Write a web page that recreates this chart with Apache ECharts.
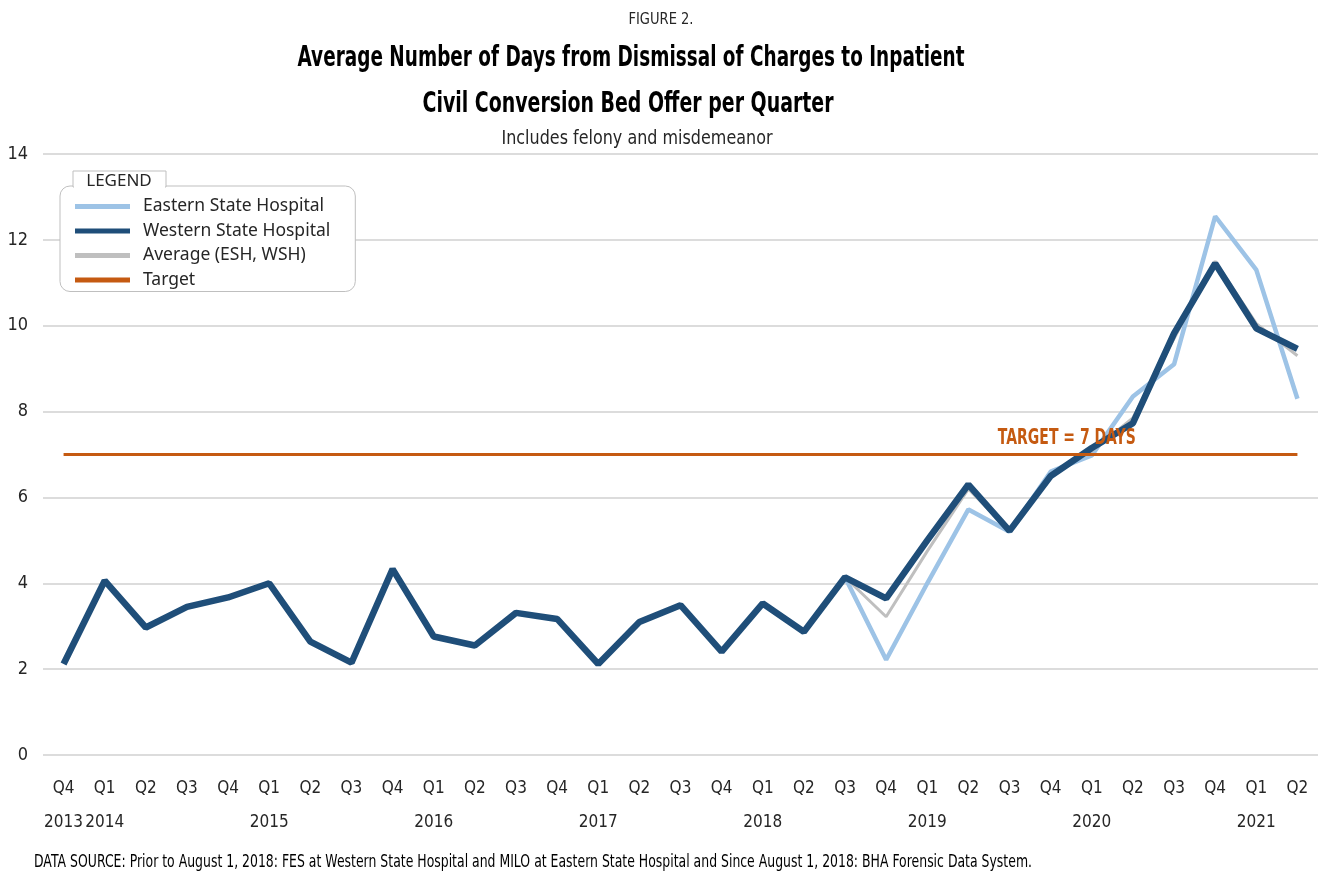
<!DOCTYPE html>
<html>
<head>
<meta charset="utf-8">
<script src="https://cdn.jsdelivr.net/npm/echarts@6/dist/echarts.min.js"></script>
<style>
  html, body { margin: 0; padding: 0; background: #fff; }
  #chart { width: 1323px; height: 875px; }
</style>
</head>
<body>
<div id="chart"></div>
<script>
// quarter labels and the year row under them
var quarters = ['Q4',
  'Q1', 'Q2', 'Q3', 'Q4', 'Q1', 'Q2', 'Q3', 'Q4', 'Q1', 'Q2', 'Q3', 'Q4',
  'Q1', 'Q2', 'Q3', 'Q4', 'Q1', 'Q2', 'Q3', 'Q4', 'Q1', 'Q2', 'Q3', 'Q4',
  'Q1', 'Q2', 'Q3', 'Q4', 'Q1', 'Q2']
var years = ['2013',
  '2014', '', '', '', '2015', '', '', '', '2016', '', '', '',
  '2017', '', '', '', '2018', '', '', '', '2019', '', '', '',
  '2020', '', '', '', '2021', '']

var western = [2.12, 4.06, 2.97, 3.45, 3.67, 4.0, 2.64, 2.15, 4.33, 2.76, 2.55, 3.31, 3.17,
  2.12, 3.1, 3.49, 2.41, 3.53, 2.87, 4.14, 3.65, 5.0, 6.3, 5.22, 6.5,
  7.15, 7.73, 9.82, 11.45, 9.94, 9.46]
var eastern = [null, null, null, null, null, null, null, null, null, null, null, null, null,
  null, null, null, null, null, null, 4.14, 2.22, 4.0, 5.72, 5.2, 6.6,
  6.98, 8.35, 9.1, 12.55, 11.3, 8.3]
var average = [null, null, null, null, null, null, null, null, null, null, null, null, null,
  null, null, null, null, null, null, 4.14, 3.22, 4.75, 6.2, 5.22, 6.55,
  7.08, 7.85, 9.7, 11.5, 10.05, 9.3]
var targetDays = 7
var targetLabelAt = 25

var narrow = "'Liberation Sans Narrow', 'DejaVu Sans Condensed', sans-serif"

// the source picture is squeezed sideways, so the headline texts get a scaleX
var measureCtx = document.createElement('canvas').getContext('2d')
function squeeze (text, weight, size, width) {
  measureCtx.font = weight + ' ' + size + 'px "DejaVu Sans"'
  return width / measureCtx.measureText(text).width
}
function tallText (text, weight, size, x, y, width, color, align) {
  return {
    type: 'text',
    z: 50,
    x: x,
    y: y,
    scaleX: squeeze(text, weight, size, width),
    style: {
      text: text,
      fontFamily: 'DejaVu Sans',
      fontSize: size,
      fontWeight: weight,
      fill: color,
      align: align || 'center',
      verticalAlign: 'middle'
    }
  }
}

var chart = echarts.init(document.getElementById('chart'))

var option = {
  animation: false,
  legend: {
    orient: 'vertical',
    left: 60,
    top: 186,
    padding: [11, 25, 2, 15],
    itemWidth: 55,
    itemHeight: 5,
    itemGap: 5.5,
    icon: 'rect',
    backgroundColor: '#fff',
    borderColor: '#bfbfbf',
    borderWidth: 1,
    borderRadius: 10,
    textStyle: { fontFamily: 'Noto Sans', fontSize: 17.5, color: '#262626', lineHeight: 19, padding: [0, 0, 0, 8] },
    data: ['Eastern State Hospital', 'Western State Hospital', 'Average (ESH, WSH)', 'Target']
  },
  grid: { left: 43, right: 5, top: 154, bottom: 120 },
  xAxis: {
    type: 'category',
    data: quarters,
    boundaryGap: true,
    axisLine: { show: false },
    axisTick: { show: false },
    axisLabel: {
      interval: 0,
      margin: 17,
      fontFamily: narrow,
      fontSize: 17,
      lineHeight: 34,
      color: '#262626',
      formatter: function (value, idx) {
        return value + '\n' + (years[idx] || ' ')
      }
    }
  },
  yAxis: {
    type: 'value',
    min: 0,
    max: 14,
    interval: 2,
    axisLine: { show: false },
    axisTick: { show: false },
    splitLine: { lineStyle: { color: '#d0d0d0', width: 1.5 } },
    axisLabel: { fontFamily: narrow, fontSize: 18, color: '#262626', margin: 15 }
  },
  series: [
    {
      name: 'Eastern State Hospital',
      type: 'line',
      data: eastern,
      symbol: 'none',
      color: '#9dc3e6',
      lineStyle: { width: 4.5, color: '#9dc3e6' },
      z: 2
    },
    {
      name: 'Average (ESH, WSH)',
      type: 'line',
      data: average,
      symbol: 'none',
      color: '#bfbfbf',
      lineStyle: { width: 3, color: '#bfbfbf' },
      z: 3
    },
    {
      name: 'Western State Hospital',
      type: 'line',
      data: western,
      symbol: 'none',
      color: '#1f4e79',
      lineStyle: { width: 6.5, color: '#1f4e79' },
      z: 4
    },
    {
      name: 'Target',
      type: 'line',
      data: quarters.map(function () { return targetDays }),
      symbol: 'none',
      color: '#c55a11',
      lineStyle: { width: 3, color: '#c55a11' },
      z: 5
    }
  ]
}

chart.setOption(option)

// label of the target line sits just above it, left of Q1 2020
var tp = chart.convertToPixel({ seriesIndex: 3 }, [targetLabelAt, targetDays])

chart.setOption({
  graphic: [
    tallText('FIGURE 2.', 'normal', 16, 661, 20, 65, '#262626'),
    tallText('Average Number of Days from Dismissal of Charges to Inpatient', 'bold', 29, 631, 58.5, 667, '#000'),
    tallText('Civil Conversion Bed Offer per Quarter', 'bold', 29, 628, 104.5, 411, '#000'),
    tallText('Includes felony and misdemeanor', 'normal', 20, 637, 138.5, 271, '#262626'),
    tallText('DATA SOURCE: Prior to August 1, 2018: FES at Western State Hospital and MILO at Eastern State Hospital and Since August 1, 2018: BHA Forensic Data System.',
      'normal', 17, 34, 863, 998, '#000', 'left'),
    tallText('TARGET = 7 DAYS', 'bold', 22, tp[0] - 25, tp[1] - 16, 138, '#c55a11'),
    {
      type: 'rect', z: 100,
      shape: { x: 73, y: 171, width: 93, height: 16 },
      style: { fill: '#fff', stroke: '#bfbfbf', lineWidth: 1 }
    },
    {
      type: 'rect', z: 101,
      shape: { x: 74, y: 185, width: 91, height: 3 },
      style: { fill: '#fff' }
    },
    {
      type: 'text', z: 102,
      x: 119, y: 181,
      style: { text: 'LEGEND', fontFamily: 'Noto Sans', fontSize: 17, fill: '#262626', align: 'center', verticalAlign: 'middle' }
    }
  ]
})
</script>
</body>
</html>
